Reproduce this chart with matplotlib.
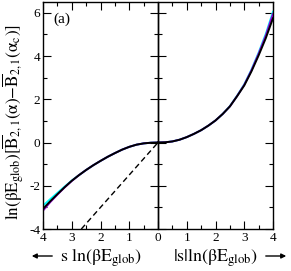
import numpy as np
import matplotlib
matplotlib.use('Agg')
import matplotlib.pyplot as plt

plt.rcParams['font.family'] = ['Liberation Serif', 'DejaVu Serif']
plt.rcParams['mathtext.fontset'] = 'stix'

# left half (x from 0 to -4) and right half (x from 0 to 4)
x_left = [0, -0.25, -0.5, -0.75, -1.0, -1.25, -1.5, -1.75, -2.0,
          -2.25, -2.5, -2.75, -3.0, -3.25, -3.5, -3.75, -4.0]
black_left = [0, -0.01, -0.04, -0.10, -0.20, -0.33, -0.49, -0.66, -0.85,
              -1.05, -1.27, -1.51, -1.77, -2.07, -2.39, -2.72, -3.07]
cyan_left = [0, -0.01, -0.04, -0.10, -0.20, -0.33, -0.49, -0.66, -0.85,
             -1.05, -1.27, -1.51, -1.76, -2.04, -2.33, -2.62, -2.92]
violet_left = [0, -0.01, -0.04, -0.10, -0.20, -0.33, -0.49, -0.66, -0.85,
               -1.05, -1.27, -1.51, -1.78, -2.08, -2.41, -2.76, -3.15]

x_right = [0, 0.25, 0.5, 0.75, 1.0, 1.25, 1.5, 1.75, 2.0,
           2.25, 2.5, 2.75, 3.0, 3.25, 3.5, 3.75, 4.0]
black_right = [0, 0.01, 0.05, 0.13, 0.25, 0.40, 0.57, 0.78, 1.02,
               1.32, 1.67, 2.14, 2.64, 3.29, 4.03, 4.83, 5.75]
cyan_right = [0, 0.01, 0.05, 0.13, 0.25, 0.40, 0.57, 0.78, 1.02,
              1.32, 1.68, 2.16, 2.69, 3.37, 4.16, 5.03, 6.05]
violet_right = [0, 0.01, 0.05, 0.13, 0.25, 0.40, 0.57, 0.78, 1.02,
                1.32, 1.67, 2.15, 2.67, 3.34, 4.11, 4.95, 5.95]

# dashed reference line
dash_x = [-2.667, 0]
dash_y = [-4, 0]

xticks = [-4, -3, -2, -1, 0, 1, 2, 3, 4]
xtick_labels = ['4', '3', '2', '1', '0', '1', '2', '3', '4']
yticks = [-4, -2, 0, 2, 4, 6]
ytick_labels = ['-4', '-2', '0', '2', '4', '6']

W, H = 291, 271
fig = plt.figure(figsize=(W / 100, H / 100), dpi=100)
ax = fig.add_axes([43 / W, 1 - 229 / H, 230 / W, 227 / H])

lw = 1.4
ax.plot(x_left, cyan_left, color='cyan', lw=lw)
ax.plot(x_right, cyan_right, color='cyan', lw=lw)
ax.plot(x_left, violet_left, color='#9400d3', lw=lw)
ax.plot(x_right, violet_right, color='#9400d3', lw=lw)
ax.plot(x_left, black_left, color='black', lw=lw)
ax.plot(x_right, black_right, color='black', lw=lw)
ax.plot(dash_x, dash_y, color='black', lw=1, ls=(0, (4, 2.5)))
ax.axvline(0, color='black', lw=1.0)

ax.set_xlim(-4, 4)
ax.set_ylim(-4, 6.5)
ax.set_xticks(xticks)
ax.set_xticklabels(xtick_labels)
ax.set_xticks(np.arange(-4, 4.01, 0.5), minor=True)
ax.set_yticks(yticks)
ax.set_yticklabels(ytick_labels)
ax.set_yticks(np.arange(-4, 6.01, 1), minor=True)
ax.tick_params(which='both', direction='in', top=True, right=True,
               labelsize=9.5, pad=2, width=0.8)
ax.tick_params(which='major', length=6)
ax.tick_params(which='minor', length=3)
for s in ax.spines.values():
    s.set_linewidth(1.0)

# ticks on both sides of the central axis at x = 0
ax2 = fig.add_axes(ax.get_position(), sharey=ax)
ax2.set_xlim(-4, 4)
for name in ['top', 'bottom', 'right']:
    ax2.spines[name].set_visible(False)
ax2.spines['left'].set_position(('data', 0))
ax2.spines['left'].set_linewidth(1.0)
ax2.set_xticks([])
ax2.tick_params(axis='y', which='both', direction='inout', labelleft=False,
                width=0.8)
ax2.tick_params(axis='y', which='major', length=12)
ax2.tick_params(axis='y', which='minor', length=6)
ax2.patch.set_visible(False)

ax.text(0.045, 0.955, '(a)', transform=ax.transAxes, fontsize=11,
        ha='left', va='top')

ax.set_ylabel(r'$\mathrm{ln(\beta E_{glob})[\overline{B}_{2,1}(\alpha)'
              r'{-}\overline{B}_{2,1}(\alpha_c)]}$', fontsize=12.3, labelpad=2)
ax.yaxis.label.set_y(0.47)

fy = 1 - 256 / H
fig.text(60 / W, 1 - 262 / H, r'$\mathrm{s\ ln(\beta E_{glob})}$',
         fontsize=13, ha='left', va='baseline')
fig.text(173 / W, 1 - 262 / H, r'$\mathrm{|s|ln(\beta E_{glob})}$',
         fontsize=13, ha='left', va='baseline')
arrow = dict(arrowstyle='-|>', lw=1, color='black', mutation_scale=7)
ax.annotate('', xy=(29 / W, fy), xytext=(55 / W, fy),
            xycoords='figure fraction', textcoords='figure fraction',
            arrowprops=arrow)
ax.annotate('', xy=(289 / W, fy), xytext=(263 / W, fy),
            xycoords='figure fraction', textcoords='figure fraction',
            arrowprops=arrow)

fig.savefig('out.png', dpi=100)
